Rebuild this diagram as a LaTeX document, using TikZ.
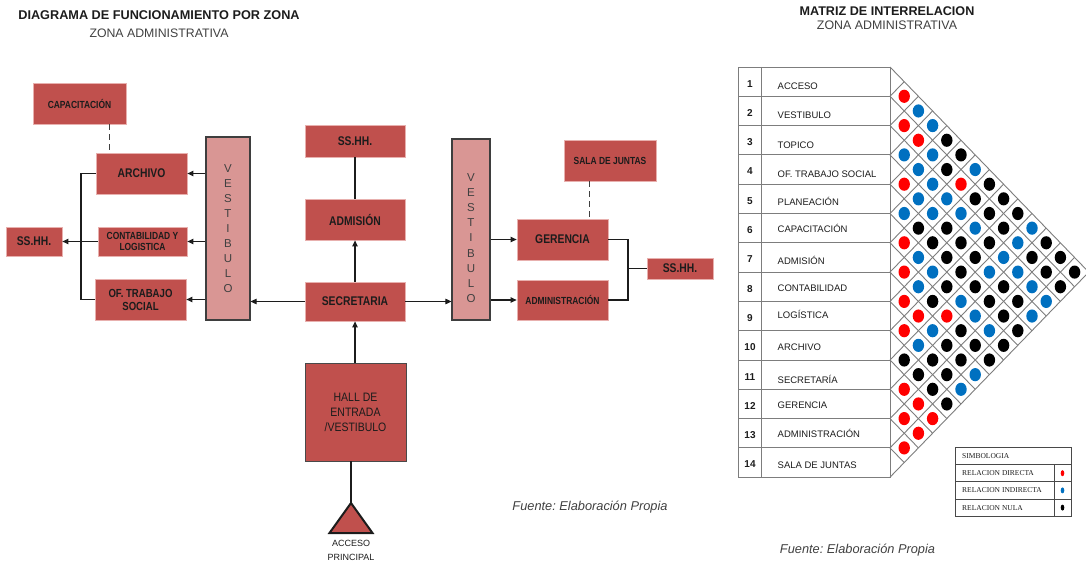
\documentclass[tikz,border=0pt]{standalone}
\usepackage{fontspec}
\setmainfont{Liberation Sans}
\newfontfamily\narrowsans{Liberation Sans}[FakeStretch=0.82]
\newfontfamily\hallsans{Liberation Sans}[FakeStretch=0.86]
\newfontfamily\legendserif{Liberation Serif}
\usetikzlibrary{arrows.meta}
\frenchspacing

\definecolor{boxred}{RGB}{192,80,77}
\definecolor{boxrim}{RGB}{232,176,174}
\definecolor{vestpink}{RGB}{217,150,148}
\definecolor{ink}{RGB}{28,28,28}
\definecolor{subgray}{RGB}{64,64,64}
\definecolor{gridgray}{RGB}{125,125,125}
\definecolor{dR}{RGB}{255,0,0}
\definecolor{dB}{RGB}{0,112,192}
\definecolor{dK}{RGB}{0,0,0}

\tikzset{
  room/.style={rectangle, fill=boxred, draw=boxrim, line width=0.8pt, inner sep=1pt, align=center, text=ink},
  bigtxt/.style={font=\fontsize{12.6}{14}\narrowsans\bfseries},
  midtxt/.style={font=\fontsize{11.7}{13}\narrowsans\bfseries},
  smalltxt/.style={font=\fontsize{10.3}{11.5}\narrowsans\bfseries},
  hallroom/.style={rectangle, fill=boxred, draw=ink!80, line width=0.9pt, align=center, text=ink,
    font=\fontsize{12.2}{15}\hallsans},
  vest/.style={rectangle, fill=vestpink, draw=ink!85, line width=1.2pt, inner sep=0pt},
  vesttxt/.style={font=\fontsize{11.5}{15.1}\selectfont, text=subgray, align=center, inner sep=0pt},
  link/.style={draw=ink, line width=1.1pt},
  flow/.style={link, -{Triangle[length=6pt,width=5.5pt]}},
  tie/.style={draw=subgray, line width=1pt, dash pattern=on 6pt off 4pt},
  cellline/.style={draw=gridgray, line width=0.9pt},
  rowlabel/.style={anchor=west, inner sep=0pt, text=ink, font=\fontsize{9.5}{11}\selectfont},
  rownum/.style={inner sep=0pt, text=ink, font=\fontsize{10}{11}\bfseries},
  legtxt/.style={anchor=west, inner sep=0pt, text=ink, font=\fontsize{7.5}{9}\legendserif},
  source/.style={text=subgray, font=\fontsize{12.8}{14}\itshape},
}

\begin{document}
\begin{tikzpicture}[x=1pt,y=-1pt]
\useasboundingbox (0,0) rectangle (1086,564);

% ---------- headings ----------
\node[text=ink, font=\fontsize{12.7}{14}\bfseries] (lefttitle) at (159,14.7) {DIAGRAMA DE FUNCIONAMIENTO POR ZONA};
\node[text=subgray, font=\fontsize{12.3}{14}\selectfont] (leftsub) at (159,33) {ZONA ADMINISTRATIVA};
\node[text=ink, font=\fontsize{12.6}{14}\bfseries] (righttitle) at (887,11.2) {MATRIZ DE INTERRELACION};
\node[text=subgray, font=\fontsize{12.4}{14}\selectfont] (rightsub) at (887,25) {ZONA ADMINISTRATIVA};

% ---------- functional diagram: rooms ----------
\node[room, smalltxt, minimum width=93pt, minimum height=41pt] (capac) at (79.5,103.5) {CAPACITACI\'ON};
\node[room, bigtxt, minimum width=91pt, minimum height=41pt] (archivo) at (141.5,173.5) {ARCHIVO};
\node[room, smalltxt, minimum width=89pt, minimum height=29pt] (contab) at (142.5,241.5) {CONTABILIDAD Y\\LOGISTICA};
\node[room, midtxt, minimum width=91pt, minimum height=41pt] (oftrab) at (140.5,299.5) {OF. TRABAJO\\SOCIAL};
\node[room, bigtxt, minimum width=56pt, minimum height=29pt] (sshhL) at (34,241.5) {SS.HH.};

\node[vest, minimum width=44pt, minimum height=183pt] (vestL) at (228,228.5) {};
\node[vesttxt] (vestLtxt) at (228,228.5) {V\\E\\S\\T\\I\\B\\U\\L\\O};

\node[room, bigtxt, minimum width=100pt, minimum height=32pt] (sshhM) at (355,141) {SS.HH.};
\node[room, bigtxt, minimum width=100pt, minimum height=41pt] (admision) at (355,219.5) {ADMISI\'ON};
\node[room, bigtxt, minimum width=100pt, minimum height=39pt] (secret) at (355,301.5) {SECRETARIA};
\node[hallroom, minimum width=101pt, minimum height=98pt] (hall) at (355.5,412) {HALL DE\\ENTRADA\\/VESTIBULO};

\node[vest, minimum width=38pt, minimum height=181pt] (vestR) at (471,229.5) {};
\node[vesttxt] (vestRtxt) at (471,238) {V\\E\\S\\T\\I\\B\\U\\L\\O};

\node[room, smalltxt, minimum width=92pt, minimum height=41pt] (sala) at (610,160.5) {SALA DE JUNTAS};
\node[room, bigtxt, minimum width=91pt, minimum height=41pt] (gerencia) at (562.5,239.5) {GERENCIA};
\node[room, smalltxt, minimum width=91pt, minimum height=40pt] (admin) at (562.5,300) {ADMINISTRACI\'ON};
\node[room, bigtxt, minimum width=66pt, minimum height=21pt] (sshhR) at (680,268.5) {SS.HH.};

% main entrance marker
\coordinate (apex) at (351,503);
\draw[fill=boxred, draw=ink, line width=2pt, line join=miter] (apex) -- ++(21.5,30) -- ++(-43,0) -- cycle;
\node[text=ink, align=center, font=\fontsize{9}{14}\selectfont] (acceso) at (351,550.5) {ACCESO\\PRINCIPAL};

% ---------- functional diagram: connectors ----------
\coordinate (lb) at (81,0);
\coordinate (rb) at (628,0);
\coordinate (dc) at (109,0);
\coordinate (ds) at (589,0);

\draw[tie] (capac.south -| dc) -- (archivo.north -| dc);
\draw[tie] (sala.south -| ds) -- (gerencia.north -| ds);

\draw[flow] (vestL.west |- archivo) -- (archivo.east);
\draw[flow] (vestL.west |- contab) -- (contab.east);
\draw[flow] (vestL.west |- oftrab) -- (oftrab.east);
\draw[link] (archivo.west) -- (archivo.west -| lb) -- (oftrab.west -| lb) -- (oftrab.west);
\draw[flow] (contab.west) -- (sshhL.east);

\draw[link] (sshhM.south) -- (admision.north);
\draw[flow] (secret.north) -- (admision.south);
\draw[flow] (hall.north -| secret) -- (secret.south);
\draw[flow] (secret.west) -- (vestL.east |- secret);
\draw[flow] (secret.east) -- (vestR.west |- secret);
\draw[link] (hall.south -| apex) -- (apex);

\draw[flow] (vestR.east |- gerencia) -- (gerencia.west);
\draw[flow] (vestR.east |- admin) -- (admin.west);
\draw[link] (gerencia.east) -- (gerencia.east -| rb) -- (admin.east -| rb) -- (admin.east);
\draw[link] (sshhR.west -| rb) -- (sshhR.west);

\node[source] (fuenteL) at (590,507) {Fuente: Elaboraci\'on Propia};

% ---------- interrelation matrix: table ----------
\draw[cellline] (738,67) rectangle (890,477.2);
\draw[cellline] (761,67) -- (761,477.2);
\foreach \r in {1,...,13}{
  \draw[cellline] (738,67+\r*29.3) -- (890,67+\r*29.3);
}
\foreach \r/\lab/\dy in {1/ACCESO/4.5, 2/VESTIBULO/4, 3/TOPICO/4.8, 4/OF. TRABAJO SOCIAL/4.5,
    5/PLANEACI\'ON/2.8, 6/CAPACITACI\'ON/0, 7/ADMISI\'ON/2.5, 8/CONTABILIDAD/1,
    9/LOG\'ISTICA/-1.5, 10/ARCHIVO/1.7, 11/SECRETAR\'IA/5, 12/GERENCIA/1,
    13/ADMINISTRACI\'ON/0, 14/SALA DE JUNTAS/2.5}{
  \node[rownum] (num\r) at (750,67+\r*29.3-14.65+2) {\r};
  \node[rowlabel] (lab\r) at (777.5,67+\r*29.3-14.65+\dy) {\lab};
}

% ---------- interrelation matrix: diamond grid ----------
\foreach \r in {0,...,14}{
  \pgfmathsetmacro\yk{67+\r*29.3}
  \pgfmathsetmacro\dn{(14-\r)*14.65}
  \pgfmathsetmacro\up{\r*14.65}
  \draw[cellline] (890,\yk) -- ++(\dn*0.969,\dn);
  \draw[cellline] (890,\yk) -- ++(\up*0.969,-\up);
}

% relation marks: column offset / diagonal index / kind
\foreach \col/\diag/\hue in {
  1/2/R,
  2/3/B,
  1/4/R, 3/4/B,
  2/5/R, 4/5/K,
  1/6/B, 3/6/B, 5/6/K,
  2/7/B, 4/7/K, 6/7/B,
  1/8/R, 3/8/B, 5/8/R, 7/8/K,
  2/9/B, 4/9/B, 6/9/K, 8/9/K,
  1/10/B, 3/10/B, 5/10/B, 7/10/K, 9/10/K,
  2/11/K, 4/11/K, 6/11/B, 8/11/K, 10/11/B,
  1/12/R, 3/12/K, 5/12/K, 7/12/K, 9/12/B, 11/12/K,
  2/13/B, 4/13/K, 6/13/K, 8/13/B, 10/13/K, 12/13/K,
  1/14/R, 3/14/B, 5/14/K, 7/14/B, 9/14/B, 11/14/K, 13/14/K,
  2/15/B, 4/15/K, 6/15/K, 8/15/K, 10/15/B, 12/15/K,
  1/16/R, 3/16/K, 5/16/B, 7/16/K, 9/16/K, 11/16/B,
  2/17/R, 4/17/R, 6/17/B, 8/17/K, 10/17/B,
  1/18/R, 3/18/B, 5/18/K, 7/18/B, 9/18/K,
  2/19/B, 4/19/K, 6/19/K, 8/19/K,
  1/20/K, 3/20/K, 5/20/K, 7/20/K,
  2/21/K, 4/21/K, 6/21/B,
  1/22/R, 3/22/K, 5/22/B,
  2/23/R, 4/23/K,
  1/24/R, 3/24/R,
  2/25/R,
  1/26/R}{
  \fill[d\hue] (890+\col*14.2,67+\diag*14.65) ellipse [x radius=5.7, y radius=6.6];
}

% ---------- legend ----------
\draw[draw=ink!80, line width=0.8pt] (955,447) rectangle (1071,516);
\draw[draw=ink!80, line width=0.8pt] (955,464.5) -- (1071,464.5);
\draw[draw=ink!80, line width=0.8pt] (955,481.8) -- (1071,481.8);
\draw[draw=ink!80, line width=0.8pt] (955,499) -- (1071,499);
\draw[draw=ink!80, line width=0.8pt] (1054,464.5) -- (1054,516);
\node[legtxt] (legT) at (962,456) {SIMBOLOGIA};
\node[legtxt] (legR) at (962,473.2) {RELACION DIRECTA};
\node[legtxt] (legB) at (962,490.4) {RELACION INDIRECTA};
\node[legtxt] (legK) at (962,507.6) {RELACION NULA};
\fill[dR] (1062.5,473.2) ellipse [x radius=1.8, y radius=3];
\fill[dB] (1062.5,490.4) ellipse [x radius=1.8, y radius=3];
\fill[dK] (1062.5,507.6) ellipse [x radius=1.8, y radius=3];

\node[source] (fuenteR) at (857.5,550) {Fuente: Elaboraci\'on Propia};
\end{tikzpicture}
\end{document}
